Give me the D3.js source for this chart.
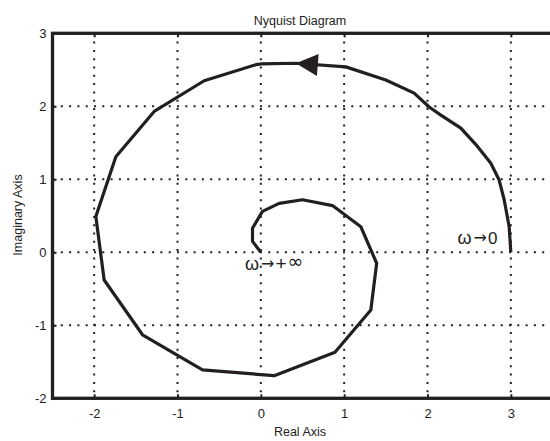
<!DOCTYPE html>
<html>
<head>
<meta charset="utf-8">
<script src="https://cdn.jsdelivr.net/npm/d3@7"></script>
<style>
  body { margin: 0; background: #fff; }
  svg { display: block; font-family: "Liberation Sans", Arial, sans-serif; }
</style>
</head>
<body>
<svg id="chart" width="550" height="441"></svg>
<script>
// ticks
var xTicks = [-2, -1, 0, 1, 2, 3];
var yTicks = [-2, -1, 0, 1, 2, 3];

// Nyquist curve (re, im), from w->0 to w->+inf
var re = [3.0, 2.98, 2.92, 2.86, 2.76, 2.60, 2.40, 2.16, 2.02, 1.84, 1.50, 1.02, 0.42, 0.0, -0.06,
          -0.68, -1.28, -1.74, -1.98, -1.88, -1.42, -0.70, 0.16, 0.89, 1.32, 1.39,
          1.2, 0.86, 0.50, 0.22, 0.02, -0.10, -0.10, 0.0];
var im = [0.0, 0.35, 0.72, 0.99, 1.22, 1.45, 1.70, 1.88, 1.99, 2.18, 2.36, 2.54, 2.59, 2.58, 2.57,
          2.35, 1.93, 1.31, 0.49, -0.38, -1.13, -1.61, -1.69, -1.37, -0.79, -0.15,
          0.35, 0.64, 0.72, 0.67, 0.56, 0.33, 0.15, 0.0];

// direction arrow on the curve: tip and a point behind it
var arrowTip = [0.42, 2.59];
var arrowBack = [0.70, 2.565];

var labels = [
  {parts: ["\u03c9", "\u2192", "0"], re: 2.36, im: 0.12},
  {parts: ["\u03c9", "\u2192", "+", "\u221e"], re: -0.19, im: -0.24}
];

var svg = d3.select("#chart");
var x = d3.scaleLinear().domain([-2.5, 3.5]).range([52.5, 552.5]);
var y = d3.scaleLinear().domain([-2, 3]).range([398.3, 33.3]);
var ink = "#231f20";

// grid
svg.append("g").selectAll("line")
  .data(xTicks)
  .join("line")
  .attr("x1", d => x(d)).attr("x2", d => x(d))
  .attr("y1", y(3)).attr("y2", y(-2))
  .attr("stroke", ink).attr("stroke-width", 2)
  .attr("stroke-dasharray", "2,6.3");

svg.append("g").selectAll("line")
  .data(yTicks.filter(d => d > -2 && d < 3))
  .join("line")
  .attr("x1", x(-2.5)).attr("x2", x(3.5))
  .attr("y1", d => y(d)).attr("y2", d => y(d))
  .attr("stroke", ink).attr("stroke-width", 2)
  .attr("stroke-dasharray", "2,6.3");

// axes (ticks inside, labels outside)
var fmt = d => String(d);
var xAxis = d3.axisBottom(x).tickValues(xTicks).tickSize(-4).tickPadding(10).tickFormat(fmt);
var yAxis = d3.axisLeft(y).tickValues(yTicks).tickSize(-4).tickPadding(6).tickFormat(fmt);

var gx = svg.append("g").attr("transform", "translate(0," + y(-2) + ")").call(xAxis);
var gy = svg.append("g").attr("transform", "translate(" + x(-2.5) + ",0)").call(yAxis);
[gx, gy].forEach(function (g) {
  g.select(".domain").remove();
  g.selectAll("line").attr("stroke", ink).attr("stroke-width", 2);
  g.selectAll("text").attr("fill", "#222").style("font-size", "13px")
    .style("font-family", "'Liberation Sans', Arial, sans-serif");
});
var gxt = svg.append("g").attr("transform", "translate(0," + y(3) + ")")
  .call(d3.axisTop(x).tickValues(xTicks).tickSize(-4).tickFormat(""));
gxt.select(".domain").remove();
gxt.selectAll("line").attr("stroke", ink).attr("stroke-width", 2);

// frame
svg.append("rect")
  .attr("x", x(-2.5)).attr("y", y(3))
  .attr("width", x(3.5) - x(-2.5)).attr("height", y(-2) - y(3))
  .attr("fill", "none").attr("stroke", ink).attr("stroke-width", 3.3);

// curve
var pts = re.map((d, i) => [d, im[i]]);
svg.append("path")
  .datum(pts)
  .attr("d", d3.line().x(d => x(d[0])).y(d => y(d[1])))
  .attr("fill", "none").attr("stroke", ink).attr("stroke-width", 3.2)
  .attr("stroke-linejoin", "round");

// arrow head
var tx = x(arrowTip[0]), ty = y(arrowTip[1]);
var bx = x(arrowBack[0]), by = y(arrowBack[1]);
var len = Math.hypot(bx - tx, by - ty);
var ux = (bx - tx) / len, uy = (by - ty) / len;
var hl = 22, hw = 11;
var cx = tx + ux * hl, cy = ty + uy * hl;
svg.append("path")
  .attr("d", "M" + tx + "," + ty +
             "L" + (cx - uy * hw) + "," + (cy + ux * hw) +
             "L" + (cx + uy * hw) + "," + (cy - ux * hw) + "Z")
  .attr("fill", ink);

// annotations: omega, arrow, limit
var partStyle = {
  "\u03c9": {font: "'Liberation Sans', Arial, sans-serif", size: 18, dy: 0, dx: 0},
  "\u2192": {font: "'DejaVu Sans', sans-serif", size: 16, dy: -1, dx: 2},
  "0": {font: "'Liberation Sans', Arial, sans-serif", size: 17, dy: 0, dx: 1},
  "+": {font: "'Liberation Sans', Arial, sans-serif", size: 19, dy: 0, dx: 1},
  "\u221e": {font: "'DejaVu Sans', sans-serif", size: 19, dy: -2, dx: 1}
};
svg.append("g").selectAll("text")
  .data(labels)
  .join("text")
  .attr("x", d => x(d.re)).attr("y", d => y(d.im))
  .attr("fill", "#222")
  .each(function (d) {
    var t = d3.select(this), prev = 0;
    d.parts.forEach(function (p) {
      var s = partStyle[p];
      t.append("tspan")
        .attr("dy", s.dy - prev)
        .attr("dx", s.dx)
        .style("font-family", s.font)
        .style("font-size", s.size + "px")
        .text(p);
      prev = s.dy;
    });
  });

// titles
svg.append("text").attr("x", 300).attr("y", 25).attr("text-anchor", "middle")
  .style("font-size", "12.5px").attr("fill", "#222").text("Nyquist Diagram");
svg.append("text").attr("x", 300).attr("y", 436).attr("text-anchor", "middle")
  .style("font-size", "12.5px").attr("fill", "#222").text("Real Axis");
svg.append("text").attr("transform", "translate(22,215) rotate(-90)")
  .attr("text-anchor", "middle")
  .style("font-size", "12.5px").attr("fill", "#222").text("Imaginary Axis");
</script>
</body>
</html>
